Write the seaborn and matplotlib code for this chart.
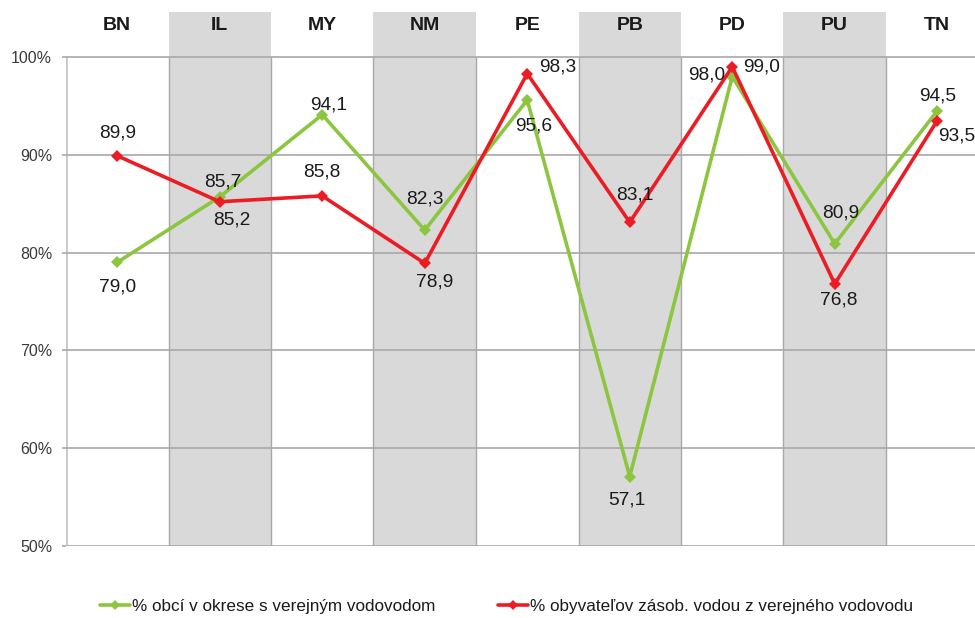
import matplotlib
matplotlib.use("Agg")
import matplotlib.pyplot as plt
import seaborn as sns
import pandas as pd
from matplotlib.lines import Line2D

categories = ["BN", "IL", "MY", "NM", "PE", "PB", "PD", "PU", "TN"]
obce = [79.0, 85.7, 94.1, 82.3, 95.6, 57.1, 98.0, 80.9, 94.5]
obyv = [89.9, 85.2, 85.8, 78.9, 98.3, 83.1, 99.0, 76.8, 93.5]
series_names = ["% obcí v okrese s verejným vodovodom",
                "% obyvateľov zásob. vodou z verejného vodovodu"]
yticks = [50, 60, 70, 80, 90, 100]

# label offsets (pixels, x right / y up) per point
off_obce = [(0, -25), (3, 15), (6, 10), (0, 31), (6, -26), (-3, -23), (-26, 2), (6, 31), (0, 15)]
off_obyv = [(0, 23), (12, -18), (0, 24), (10, -19), (30, 7), (5, 27), (29, 0), (4, -16), (19, -15)]

sns.set_theme(style="white")
plt.rcParams["font.family"] = ["Liberation Sans", "DejaVu Sans"]

green = "#8cc640"
red = "#ec1c24"

df = pd.DataFrame({
    "kat": categories * 2,
    "hodnota": obce + obyv,
    "rad": [series_names[0]] * len(categories) + [series_names[1]] * len(categories),
})

fig = plt.figure(figsize=(9.75, 6.18), dpi=100)
ax = fig.add_axes([66 / 975, 1 - 546 / 618, 1 - 66 / 975, (546 - 12) / 618])

ymin, ytop = 50, 104.6
n = len(categories)
for i in range(n):
    if i % 2 == 1:
        ax.axvspan(i - 0.5, i + 0.5, ymin=0, ymax=1, color="#d9d9d9", lw=0, zorder=0)
        ax.vlines([i - 0.5, i + 0.5], ymin, 100, colors="#a8a8a8", lw=1.0, zorder=1)
ax.vlines([-0.5], ymin, 100, colors="#c8c8c8", lw=2.0, zorder=1)
for y in yticks:
    ax.axhline(y, color="#a8a8a8", lw=1.2, zorder=1)

sns.lineplot(data=df, x="kat", y="hodnota", hue="rad", palette=[green, red],
             marker="D", markersize=6, markeredgewidth=0, linewidth=2.6,
             sort=False, ax=ax, zorder=3, legend=False)

ax.set_xlim(-0.5, -0.5 + (975 - 66) / 102.5)
ax.set_ylim(ymin, ytop)
ax.set_yticks(yticks)
ax.set_yticklabels([f"{y}%" for y in yticks], fontsize=11.5, color="#3a3a3a")
ax.tick_params(axis="y", length=3, color="#a8a8a8", width=1.2, pad=7, left=True)
ax.set_xticks([])
ax.set_xlabel("")
ax.set_ylabel("")
for s in ax.spines.values():
    s.set_visible(False)

for i, c in enumerate(categories):
    ax.text(i, 103.25, c, ha="center", va="center", fontsize=14,
            fontweight="bold", color="#1a1a1a", zorder=4)

def fmt(v):
    return f"{v:.1f}".replace(".", ",")

for i in range(n):
    ax.annotate(fmt(obce[i]), (i, obce[i]), xytext=off_obce[i], textcoords="offset pixels",
                ha="center", va="center", fontsize=13.8, color="#1a1a1a", zorder=5)
    ax.annotate(fmt(obyv[i]), (i, obyv[i]), xytext=off_obyv[i], textcoords="offset pixels",
                ha="center", va="center", fontsize=13.8, color="#1a1a1a", zorder=5)

colors = [green, red]
anchors = [100 / 975, 498 / 975]
for k in range(2):
    h = Line2D([], [], color=colors[k], lw=2.6, marker="D", markersize=5, markeredgewidth=0)
    leg = fig.legend([h], [series_names[k]], loc="center left",
                     bbox_to_anchor=(anchors[k], 1 - 606 / 618),
                     frameon=False, fontsize=12.3, handlelength=1.75, handletextpad=0.1,
                     borderaxespad=0, borderpad=0)
    for t in leg.get_texts():
        t.set_color("#1a1a1a")

fig.savefig("out.png", dpi=100)
